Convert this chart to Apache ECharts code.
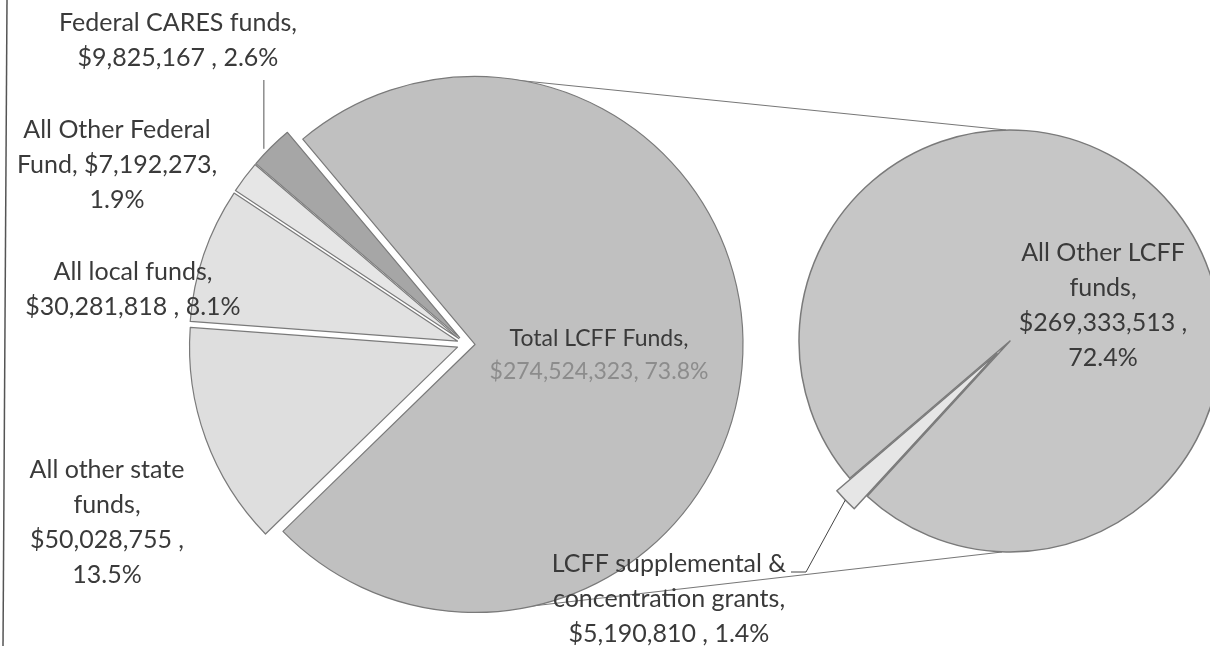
<!DOCTYPE html>
<html>
<head>
<meta charset="utf-8">
<script src="https://cdn.jsdelivr.net/npm/echarts@6/dist/echarts.min.js"></script>
<style>
  html, body { margin: 0; padding: 0; background: #fff; }
  #chart { width: 1210px; height: 646px; }
</style>
</head>
<body>
<div id="chart"></div>
<script>
// main pie: funding sources
const fundNames = ['Total LCFF Funds', 'All other state funds', 'All local funds', 'All Other Federal Fund', 'Federal CARES funds'];
const fundValues = [274524323, 50028755, 30281818, 7192273, 9825167];
const fundLabels = [
  '{sm|Total LCFF Funds,}\n{dim|$274,524,323, 73.8%}',
  'All other state\nfunds,\n$50,028,755 ,\n13.5%',
  'All local funds,\n$30,281,818 , 8.1%',
  'All Other Federal\nFund, $7,192,273,\n1.9%',
  'Federal CARES funds,\n$9,825,167 , 2.6%'
];
// second pie: breakdown of LCFF
const lcffNames = ['LCFF supplemental & concentration grants', 'All Other LCFF funds'];
const lcffValues = [5190810, 269333513];
const lcffLabels = [
  'LCFF supplemental &\nconcentration grants,\n$5,190,810 , 1.4%',
  'All Other LCFF\nfunds,\n$269,333,513 ,\n72.4%'
];

const fundColors = ['#c0c0c0', '#dedede', '#e1e1e1', '#e6e6e6', '#a6a6a6'];
const lcffColors = ['#e6e6e6', '#c6c6c6'];
const fundSpots = [[599, 355], [107, 522], [133, 289], [117, 165], [178, 40]];
const lcffSpots = [[669, 599], [1103, 305]];

const p1 = { cx: 466, cy: 344, r: 268, off: 9, start: 130 };
const p2 = { cx: 1010, cy: 341, r: 211, off: 18, start: 227.4 };

const chart = echarts.init(document.getElementById('chart'));
const textStyle = { fontFamily: 'Lato', fontSize: 25, lineHeight: 35, color: '#3a3a3a' };
const edge = '#7a7a7a';
const rad = Math.PI / 180;

// visible slices, exploded through the selected state
function slices(p, names, values, colors, picked, bw) {
  return {
    type: 'pie',
    center: [p.cx, p.cy],
    radius: [0, p.r],
    startAngle: p.start,
    clockwise: true,
    selectedMode: 'multiple',
    selectedOffset: p.off,
    emphasis: { disabled: true },
    label: { show: false },
    labelLine: { show: false },
    data: names.map((n, i) => ({
      name: n,
      value: values[i],
      selected: picked(i),
      itemStyle: { color: colors[i], borderColor: edge, borderWidth: bw },
      select: { itemStyle: { color: colors[i], borderColor: edge, borderWidth: bw } }
    }))
  };
}

// transparent copy that only carries the labels
function labels(p, names, values, texts, spots) {
  return {
    type: 'pie',
    silent: true,
    center: [p.cx, p.cy],
    radius: [0, p.r],
    startAngle: p.start,
    clockwise: true,
    avoidLabelOverlap: false,
    emphasis: { disabled: true },
    itemStyle: { color: 'transparent', borderWidth: 0 },
    label: {
      show: true,
      position: 'outside',
      ...textStyle,
      formatter: q => texts[q.dataIndex],
      rich: {
        sm: { ...textStyle, fontSize: 23, lineHeight: 33 },
        dim: { ...textStyle, fontSize: 23, lineHeight: 33, color: '#8c8c8c' }
      }
    },
    labelLine: { show: false },
    labelLayout: q => ({
      x: spots[q.dataIndex][0],
      y: spots[q.dataIndex][1],
      align: 'center',
      verticalAlign: 'middle'
    }),
    data: names.map((n, i) => ({ name: n, value: values[i] }))
  };
}

// leader lines: from the exploded slice edge to its label
const caresAng = 136 * rad;
const caresX = p1.cx + (p1.r + p1.off + 4) * Math.cos(caresAng);
const caresY = p1.cy - (p1.r + p1.off + 4) * Math.sin(caresAng);
const wedgeAng = 224 * rad;
const wedgeX = p2.cx + (p2.r + p2.off) * Math.cos(wedgeAng);
const wedgeY = p2.cy - (p2.r + p2.off) * Math.sin(wedgeAng);

chart.setOption({
  animation: false,
  graphic: [
    { type: 'line', z: 0, shape: { x1: 7, y1: 0, x2: 3, y2: 646 }, style: { stroke: '#555', lineWidth: 1.5 } },
    { type: 'line', z: 0, shape: { x1: p1.cx + p1.off + 30, y1: p1.cy - p1.r + 3, x2: p2.cx - 4, y2: p2.cy - p2.r }, style: { stroke: '#777', lineWidth: 1.2 } },
    { type: 'line', z: 0, shape: { x1: p1.cx + p1.off + 5, y1: p1.cy + p1.r, x2: p2.cx - 8, y2: p2.cy + p2.r }, style: { stroke: '#777', lineWidth: 1.2 } },
    { type: 'line', z: 10, shape: { x1: caresX, y1: caresY, x2: caresX, y2: 80 }, style: { stroke: '#555', lineWidth: 1 } },
    { type: 'polyline', z: 10, shape: { points: [[wedgeX, wedgeY], [806, 572], [791, 572]] }, style: { stroke: '#444', lineWidth: 1, fill: null } }
  ],
  series: [
    slices(p1, fundNames, fundValues, fundColors, () => true, 1.2),
    slices(p2, lcffNames, lcffValues, lcffColors, i => i === 0, 1.5),
    labels(p1, fundNames, fundValues, fundLabels, fundSpots),
    labels(p2, lcffNames, lcffValues, lcffLabels, lcffSpots)
  ]
});
</script>
</body>
</html>
